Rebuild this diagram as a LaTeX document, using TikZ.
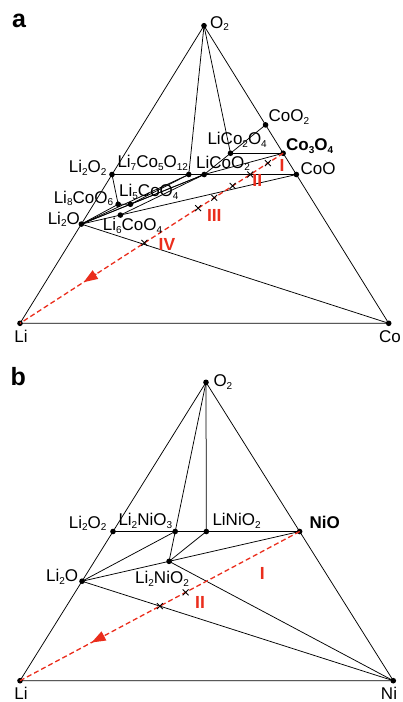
\documentclass[tikz,border=0pt]{standalone}
\usepackage{fontspec}
\setmainfont{Liberation Sans}
\usetikzlibrary{arrows.meta,calc,shapes.misc}
\definecolor{redline}{RGB}{234,45,28}
\newcommand\sbs[1]{\raisebox{-0.15em}{\fontsize{10}{10}\selectfont #1}}
\begin{document}
\begin{tikzpicture}[x=1pt,y=-1pt,
  edge/.style={line width=0.75pt, black},
  dotfill/.style={fill=black},
  lab/.style={font=\fontsize{17}{20}\selectfont, inner sep=0pt},
  blab/.style={font=\fontsize{17}{20}\selectfont\bfseries, inner sep=0pt},
  rlab/.style={font=\fontsize{17.5}{20}\selectfont\bfseries, text=redline, inner sep=0pt},
  panellab/.style={font=\fontsize{25}{28}\selectfont\bfseries, inner sep=0pt},
  redpath/.style={draw=redline, line width=1.3pt, dash pattern=on 5pt off 3pt},
  redarrow/.style={draw=redline, line width=1.3pt, -{Triangle[length=14pt,width=10pt]}, fill=redline},
  xmark/.style={cross out, draw=black, line width=0.9pt, minimum size=5pt, inner sep=0pt}
]
\useasboundingbox (0,0) rectangle (402,702);

% ================= panel a =================
\coordinate (aLi) at (20,323.3);
\coordinate (aCo) at (388.7,323.3);
\coordinate (aO) at (204,25.7);
\coordinate (aLi2O)  at (barycentric cs:aLi=2,aCo=0,aO=1);
\coordinate (aLi2O2) at (barycentric cs:aLi=2,aCo=0,aO=2);
\coordinate (aLi8CoO6) at (barycentric cs:aLi=8,aCo=1,aO=6);
\coordinate (aLi5CoO4) at (barycentric cs:aLi=5,aCo=1,aO=4);
\coordinate (aLi6CoO4) at (barycentric cs:aLi=6,aCo=1,aO=4);
\coordinate (aLi7Co5O12) at (barycentric cs:aLi=7,aCo=5,aO=12);
\coordinate (aLiCoO2) at (barycentric cs:aLi=1,aCo=1,aO=2);
\coordinate (aLiCo2O4) at (barycentric cs:aLi=1,aCo=2,aO=4);
\coordinate (aCoO2) at (barycentric cs:aLi=0,aCo=1,aO=2);
\coordinate (aCo3O4) at (barycentric cs:aLi=0,aCo=3,aO=4);
\coordinate (aCoO) at (barycentric cs:aLi=0,aCo=1,aO=1);

\draw[edge] (aLi) -- (aCo) -- (aO) -- cycle;
\draw[edge] (aO) -- (aLi7Co5O12);
\draw[edge] (aO) -- (aLiCo2O4);
\draw[edge] (aLi2O2) -- (aCoO);
\draw[edge] (aLiCo2O4) -- (aCo3O4);
\draw[edge] (aCoO2) -- (aLiCoO2);
\draw[edge] (aCo3O4) -- (aLiCoO2);
\draw[edge] (aLi2O2) -- (aLi8CoO6);
\draw[edge] (aLi8CoO6) -- (aLi5CoO4);
\draw[edge] (aLi2O) -- (aLi8CoO6);
\draw[edge] (aLi2O) -- (aLi5CoO4);
\draw[edge] (aLi2O) -- (aLi7Co5O12);
\draw[edge] (aLi2O) -- (aLiCoO2);
\draw[edge] (aLi2O) -- (aLi6CoO4);
\draw[edge] (aLi2O) -- (aCo);
\draw[edge] (aLi5CoO4) -- (aLi7Co5O12);
\draw[edge] (aLi5CoO4) -- (aLiCoO2);
\draw[edge] (aLi6CoO4) -- (aLiCoO2);
\draw[edge] (aLi6CoO4) -- (aCoO);

\foreach \p in {aLi,aCo,aO,aLi2O,aLi2O2,aLi8CoO6,aLi5CoO4,aLi6CoO4,aLi7Co5O12,aLiCoO2,aLiCo2O4,aCoO2,aCo3O4,aCoO}
  \fill[dotfill] (\p) circle (2.8pt);

\draw[redpath] (aCo3O4) -- (aLi);
\draw[redarrow] ($(aCo3O4)!0.71!(aLi)$) -- ($(aCo3O4)!0.758!(aLi)$);
\foreach \t [count=\i] in {0.058,0.125,0.192,0.262,0.323,0.527}
  \node[xmark] (axm\i) at ($(aCo3O4)!\t!(aLi)$) {};

\node[panellab] (alab) at (19,21) {a};
\node[lab,anchor=west] (tO2a) at (210,23.5) {O\sbs{2}};
\node[lab,anchor=west] (tCoO2) at (268.5,117) {CoO\sbs{2}};
\node[lab,anchor=west] (tLiCo2O4) at (207.3,140) {LiCo\sbs{2}O\sbs{4}};
\node[blab,anchor=west] (tCo3O4) at (286,146) {Co\sbs{3}O\sbs{4}};
\node[lab,anchor=west] (tCoO) at (300.5,168.5) {CoO};
\node[lab,anchor=east] (tLi2O2a) at (106.7,168) {Li\sbs{2}O\sbs{2}};
\node[lab,anchor=west] (tLi7Co5O12) at (117.3,163) {Li\sbs{7}Co\sbs{5}O\sbs{12}};
\node[lab,anchor=west] (tLiCoO2) at (196,163.5) {LiCoO\sbs{2}};
\node[lab,anchor=east] (tLi8CoO6) at (113.3,198.5) {Li\sbs{8}CoO\sbs{6}};
\node[lab,anchor=west] (tLi5CoO4) at (119,192) {Li\sbs{5}CoO\sbs{4}};
\node[lab,anchor=east] (tLi2Oa) at (80,219.5) {Li\sbs{2}O};
\node[lab,anchor=west] (tLi6CoO4) at (102.7,226) {Li\sbs{6}CoO\sbs{4}};
\node[lab,anchor=north] (tLia) at (21,330) {Li};
\node[lab,anchor=north] (tCo) at (390,330) {Co};
\node[rlab] (aI) at (282,165) {I};
\node[rlab] (aII) at (257.3,180) {II};
\node[rlab] (aIII) at (214.3,215) {III};
\node[rlab] (aIV) at (167,244) {IV};

% ================= panel b =================
\coordinate (bLi) at (20,680.7);
\coordinate (bNi) at (393.3,680.7);
\coordinate (bO) at (206,382.3);
\coordinate (bLi2O) at (barycentric cs:bLi=2,bNi=0,bO=1);
\coordinate (bLi2O2) at (barycentric cs:bLi=2,bNi=0,bO=2);
\coordinate (bLi2NiO3) at (barycentric cs:bLi=2,bNi=1,bO=3);
\coordinate (bLiNiO2) at (barycentric cs:bLi=1,bNi=1,bO=2);
\coordinate (bNiO) at (barycentric cs:bLi=0,bNi=1,bO=1);
\coordinate (bLi2NiO2) at (barycentric cs:bLi=2,bNi=1,bO=2);

\draw[edge] (bLi) -- (bNi) -- (bO) -- cycle;
\draw[edge] (bO) -- (bLi2NiO2);
\draw[edge] (bO) -- (bLiNiO2);
\draw[edge] (bLi2O2) -- (bNiO);
\draw[edge] (bLi2O) -- (bLi2NiO3);
\draw[edge] (bLi2O) -- (bLi2NiO2);
\draw[edge] (bLiNiO2) -- (bLi2NiO2);
\draw[edge] (bLi2NiO2) -- (bNiO);
\draw[edge] (bLi2NiO2) -- (bNi);
\draw[edge] (bLi2O) -- (bNi);

\foreach \p in {bLi,bNi,bO,bLi2O,bLi2O2,bLi2NiO3,bLiNiO2,bNiO,bLi2NiO2}
  \fill[dotfill] (\p) circle (2.8pt);

\draw[redpath] (bNiO) -- (bLi);
\draw[redarrow] ($(bNiO)!0.70!(bLi)$) -- ($(bNiO)!0.744!(bLi)$);
\foreach \t [count=\i] in {0.408,0.5}
  \node[xmark] (bxm\i) at ($(bNiO)!\t!(bLi)$) {};

\node[panellab] (blab) at (18.3,376.5) {b};
\node[lab,anchor=west] (tO2b) at (213.3,382.3) {O\sbs{2}};
\node[lab,anchor=east] (tLi2O2b) at (106.7,523.5) {Li\sbs{2}O\sbs{2}};
\node[lab,anchor=west] (tLi2NiO3) at (118.3,521) {Li\sbs{2}NiO\sbs{3}};
\node[lab,anchor=west] (tLiNiO2) at (212.3,521) {LiNiO\sbs{2}};
\node[blab,anchor=west] (tNiO) at (309.3,522.7) {NiO};
\node[lab,anchor=east] (tLi2Ob) at (78.3,577) {Li\sbs{2}O};
\node[lab,anchor=west] (tLi2NiO2) at (135,579) {Li\sbs{2}NiO\sbs{2}};
\node[lab,anchor=north] (tLib) at (21,686.5) {Li};
\node[lab,anchor=north] (tNi) at (389,686.5) {Ni};
\node[rlab] (bI) at (262.3,573.3) {I};
\node[rlab] (bII) at (200,602.7) {II};
\end{tikzpicture}
\end{document}
